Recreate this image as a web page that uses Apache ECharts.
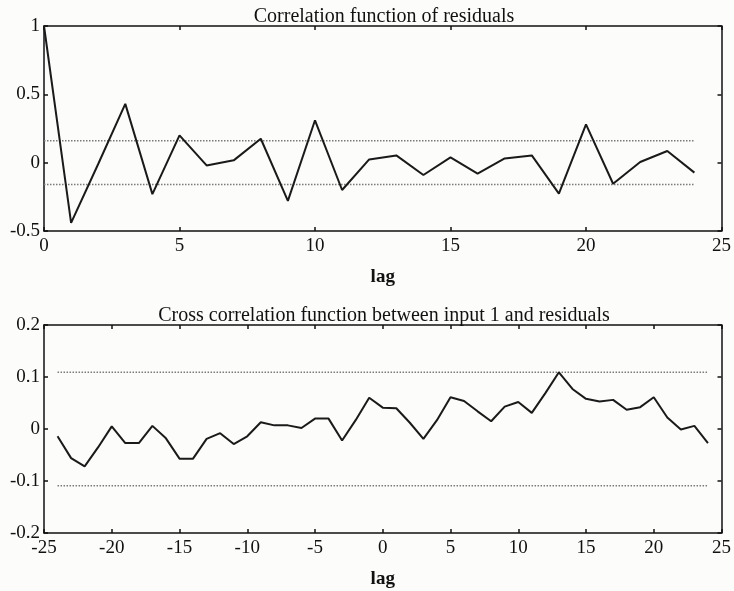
<!DOCTYPE html>
<html>
<head>
<meta charset="utf-8">
<script src="https://cdn.jsdelivr.net/npm/echarts@6/dist/echarts.min.js"></script>
<style>
html,body{margin:0;padding:0;background:#fcfcfa;}
#c{width:734px;height:591px;}
</style>
</head>
<body>
<div id="c"></div>
<script>
// ---- data ----
var acfTitle = 'Correlation function of residuals';
var ccfTitle = 'Cross correlation function between input 1 and residuals';
var xName = 'lag';

var acfLags = [0,1,2,3,4,5,6,7,8,9,10,11,12,13,14,15,16,17,18,19,20,21,22,23,24];
var acfValues = [1, -0.44, -0.01, 0.43, -0.23, 0.2, -0.02, 0.017, 0.175, -0.28, 0.31, -0.2, 0.024, 0.053, -0.09, 0.039, -0.08, 0.031, 0.053, -0.227, 0.28, -0.154, 0.005, 0.085, -0.073];
var acfBand = 0.16;
var acfBandLags = [0, 24];

var ccfLags = [-24,-23,-22,-21,-20,-19,-18,-17,-16,-15,-14,-13,-12,-11,-10,-9,-8,-7,-6,-5,-4,-3,-2,-1,0,1,2,3,4,5,6,7,8,9,10,11,12,13,14,15,16,17,18,19,20,21,22,23,24];
var ccfValues = [-0.014, -0.056, -0.072, -0.035, 0.005, -0.027, -0.027, 0.006, -0.018, -0.057, -0.057, -0.019, -0.008, -0.029, -0.014, 0.013, 0.007, 0.007, 0.002, 0.02, 0.02, -0.022, 0.017, 0.06, 0.041, 0.04, 0.012, -0.019, 0.017, 0.061, 0.054, 0.034, 0.015, 0.043, 0.052, 0.031, 0.069, 0.109, 0.077, 0.058, 0.053, 0.056, 0.037, 0.042, 0.061, 0.022, -0.001, 0.006, -0.027];
var ccfBand = 0.109;
var ccfBandLags = [-24, 24];

var acfXTicks = {min: 0, max: 25, interval: 5};
var acfYTicks = {min: -0.5, max: 1, interval: 0.5};
var ccfXTicks = {min: -25, max: 25, interval: 5};
var ccfYTicks = {min: -0.2, max: 0.2, interval: 0.1};

// ---- build ----
function pairs(xs, ys){ return xs.map(function(x,i){ return [x, ys[i]]; }); }
function band(xs, v){ return xs.map(function(x){ return [x, v]; }); }

var FONT = '"Liberation Serif", "DejaVu Serif", serif';
var INK = '#111111';
var lineAxis = {show:true, onZero:false, lineStyle:{color:INK, width:1.5}};
var tick = {show:true, inside:true, length:4, lineStyle:{color:INK, width:1.5}};
var bandStyle = {color:'#7a7a7a', width:1.5, type:[1.5, 1.5]};

function xAxes(gi, t){
  return [
    {gridIndex:gi, type:'value', min:t.min, max:t.max, interval:t.interval, position:'bottom',
     axisLine:lineAxis, axisTick:tick,
     axisLabel:{show:true, color:INK, fontFamily:FONT, fontSize:19, margin:6},
     splitLine:{show:false},
     name:xName, nameLocation:'middle', nameGap:37,
     nameTextStyle:{color:INK, fontFamily:FONT, fontSize:19, fontWeight:'bold'}},
    {gridIndex:gi, type:'value', min:t.min, max:t.max, interval:t.interval, position:'top',
     axisLine:lineAxis, axisTick:tick,
     axisLabel:{show:false}, splitLine:{show:false}}
  ];
}
function yAxes(gi, t){
  return [
    {gridIndex:gi, type:'value', min:t.min, max:t.max, interval:t.interval, position:'left',
     axisLine:lineAxis, axisTick:tick,
     axisLabel:{show:true, color:INK, fontFamily:FONT, fontSize:19, margin:4},
     splitLine:{show:false}},
    {gridIndex:gi, type:'value', min:t.min, max:t.max, interval:t.interval, position:'right',
     axisLine:lineAxis, axisTick:tick,
     axisLabel:{show:false}, splitLine:{show:false}}
  ];
}

var chart = echarts.init(document.getElementById('c'), null, {renderer:'canvas'});
var option = {
  backgroundColor:'#fcfcfa',
  animation:false,
  grid:[
    {left:44, top:26, width:678, height:205},
    {left:44, top:325, width:678, height:208}
  ],
  xAxis: xAxes(0, acfXTicks).concat(xAxes(1, ccfXTicks)),
  yAxis: yAxes(0, acfYTicks).concat(yAxes(1, ccfYTicks)),
  graphic:[
    {type:'text', x:384, y:27, style:{text:acfTitle, fill:INK, font:'20px ' + FONT, textAlign:'center', textVerticalAlign:'bottom'}},
    {type:'text', x:384, y:326, style:{text:ccfTitle, fill:INK, font:'20px ' + FONT, textAlign:'center', textVerticalAlign:'bottom'}}
  ],
  series:[
    {type:'line', xAxisIndex:0, yAxisIndex:0, data:band(acfBandLags, acfBand), symbol:'none', silent:true, lineStyle:bandStyle},
    {type:'line', xAxisIndex:0, yAxisIndex:0, data:band(acfBandLags, -acfBand), symbol:'none', silent:true, lineStyle:bandStyle},
    {type:'line', xAxisIndex:0, yAxisIndex:0, data:pairs(acfLags, acfValues), symbol:'none',
     lineStyle:{color:'#1a1a1a', width:2}},
    {type:'line', xAxisIndex:2, yAxisIndex:2, data:band(ccfBandLags, ccfBand), symbol:'none', silent:true, lineStyle:bandStyle},
    {type:'line', xAxisIndex:2, yAxisIndex:2, data:band(ccfBandLags, -ccfBand), symbol:'none', silent:true, lineStyle:bandStyle},
    {type:'line', xAxisIndex:2, yAxisIndex:2, data:pairs(ccfLags, ccfValues), symbol:'none',
     lineStyle:{color:'#1a1a1a', width:2}}
  ]
};
chart.setOption(option);
</script>
</body>
</html>
